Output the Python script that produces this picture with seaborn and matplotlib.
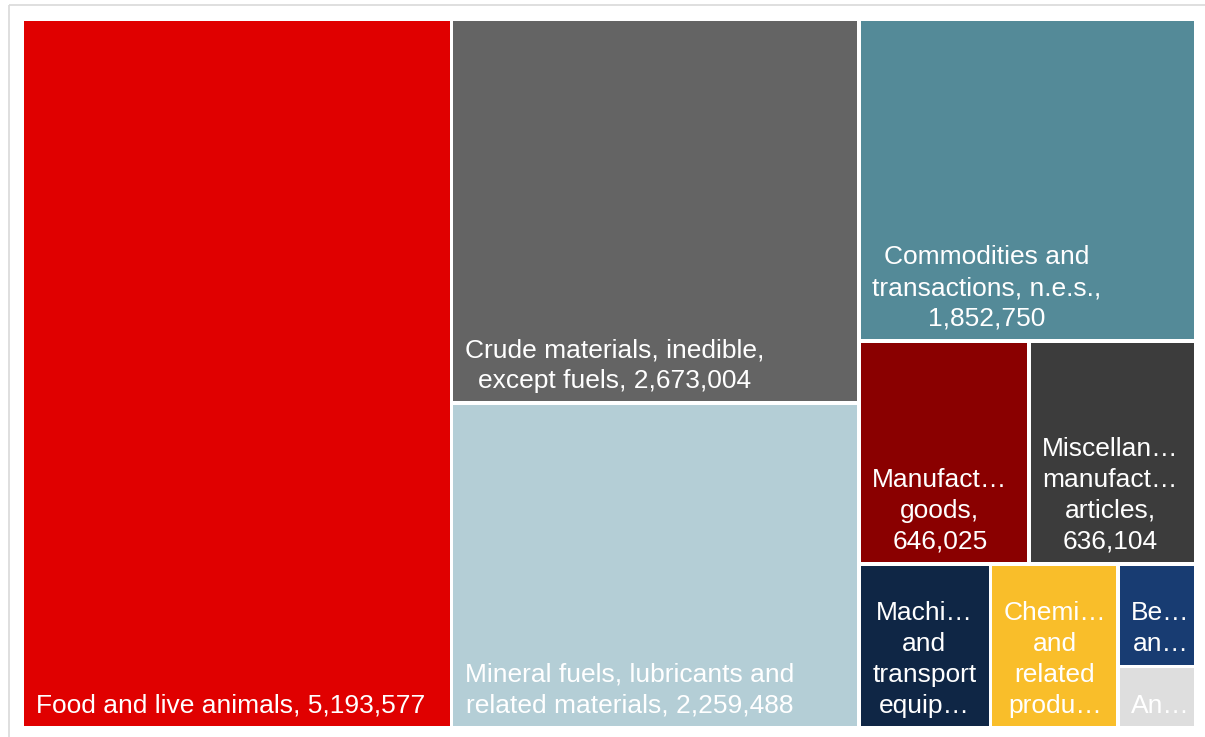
import matplotlib
matplotlib.use("Agg")
import matplotlib.pyplot as plt
from matplotlib.patches import Rectangle
import seaborn as sns

# ---------------- data ----------------
categories = [
    "Food and live animals",
    "Crude materials, inedible, except fuels",
    "Mineral fuels, lubricants and related materials",
    "Commodities and transactions, n.e.s.",
    "Manufactured goods",
    "Miscellaneous manufactured articles",
    "Machinery and transport equipment",
    "Chemicals and related products",
    "Beverages and tobacco",
    "Animal and vegetable oils, fats and waxes",
]
values = [5193577, 2673004, 2259488, 1852750, 646025, 636104,
          367900, 356700, 136700, 81900]
# label text as displayed in each tile (wrapped / truncated)
label_templates = [
    "Food and live animals, {:,}",
    "Crude materials, inedible,\nexcept fuels, {:,}",
    "Mineral fuels, lubricants and\nrelated materials, {:,}",
    "Commodities and\ntransactions, n.e.s.,\n{:,}",
    "Manufact\u2026\ngoods,\n{:,}",
    "Miscellan\u2026\nmanufact\u2026\narticles,\n{:,}",
    "Machi\u2026\nand\ntransport\nequip\u2026",
    "Chemi\u2026\nand\nrelated\nprodu\u2026",
    "Be\u2026\nan\u2026",
    "An\u2026",
]
colors = ["#E00000", "#646464", "#B4CED6", "#548A98", "#8A0000",
          "#3C3C3C", "#0F2645", "#F9BE2A", "#183C72", "#DEDEDE"]


# ---------------- squarified treemap layout ----------------
def _layout(sizes, x, y, dx, dy):
    covered = sum(sizes)
    rects = []
    if dx >= dy:  # column on the left, stacked downwards
        width = covered / dy
        for s in sizes:
            h = s / width
            rects.append((x, y, width, h))
            y += h
    else:  # row on top, left to right
        height = covered / dx
        for s in sizes:
            w = s / height
            rects.append((x, y, w, height))
            x += w
    return rects


def _leftover(sizes, x, y, dx, dy):
    covered = sum(sizes)
    if dx >= dy:
        width = covered / dy
        return x + width, y, dx - width, dy
    height = covered / dx
    return x, y + height, dx, dy - height


def _worst(sizes, x, y, dx, dy):
    return max(max(w / h, h / w) for (_, _, w, h) in _layout(sizes, x, y, dx, dy))


def squarify(sizes, x, y, dx, dy):
    if not sizes:
        return []
    if len(sizes) == 1:
        return _layout(sizes, x, y, dx, dy)
    i = 1
    while i < len(sizes) and _worst(sizes[:i], x, y, dx, dy) >= _worst(sizes[:i + 1], x, y, dx, dy):
        i += 1
    cur, rem = sizes[:i], sizes[i:]
    lx, ly, ldx, ldy = _leftover(cur, x, y, dx, dy)
    return _layout(cur, x, y, dx, dy) + squarify(rem, lx, ly, ldx, ldy)


# ---------------- figure ----------------
sns.set_theme(style="white")
plt.rcParams["font.family"] = ["Liberation Sans", "DejaVu Sans"]

W, H = 1205, 737
fig = plt.figure(figsize=(W / 100, H / 100), dpi=100)
ax = fig.add_axes([0, 0, 1, 1])
ax.set_xlim(0, W)
ax.set_ylim(H, 0)
ax.axis("off")

X0, Y0, X1, Y1 = 22.3, 19.3, 1196.0, 727.7
total = sum(values)
area = (X1 - X0) * (Y1 - Y0)
norm = [v * area / total for v in values]
rects = squarify(norm, X0, Y0, X1 - X0, Y1 - Y0)

g = 1.7  # half gap
for (x, y, w, h), col, tmpl, v in zip(rects, colors, label_templates, values):
    ax.add_patch(Rectangle((x + g, y + g), w - 2 * g, h - 2 * g,
                           facecolor=col, edgecolor="none"))
    ax.text(x + g + 11.5, y + h - g - 8.5, tmpl.format(v),
            ha="left", va="bottom", multialignment="center",
            color="white", fontsize=19, linespacing=1.36)

# faint outer frame
ax.plot([8.5, 8.5], [4.5, H], color="#D9D9D9", lw=1.2, solid_capstyle="butt")
ax.plot([8.5, W], [4.5, 4.5], color="#D9D9D9", lw=1.2, solid_capstyle="butt")

fig.savefig("out.png", dpi=100, facecolor="white")
